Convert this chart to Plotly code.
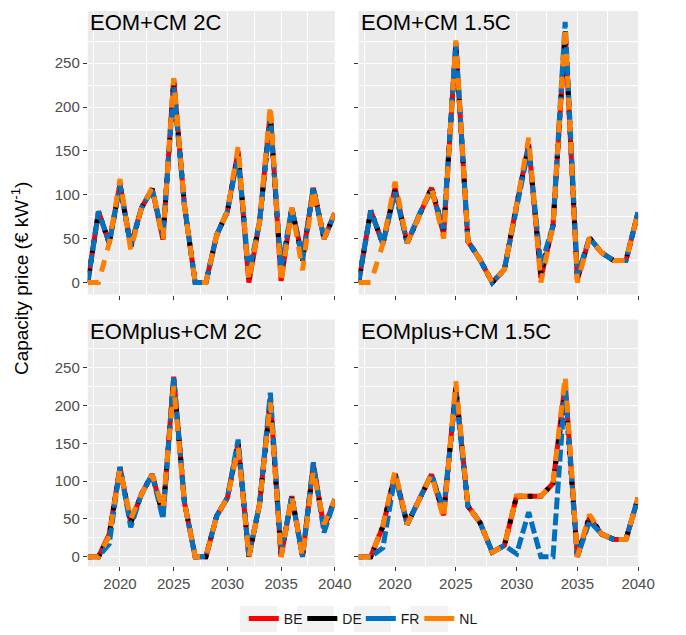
import plotly.graph_objects as go

# Years on the horizontal axis
years = list(range(2017, 2041))

# Capacity prices (EUR/kW) per scenario and country
eom_2c_be = [0, 81, 45, 112, 42, 85, 107, 49, 232, 88, 0, 0, 54, 81, 150, 0, 70, 195, 2, 85, 28, 108, 50, 79]
eom_2c_de = [0, 81, 45, 112, 40, 85, 107, 50, 228, 88, 0, 0, 54, 81, 148, 5, 70, 188, 10, 85, 25, 108, 50, 79]
eom_2c_fr = [0, 81, 45, 111, 42, 85, 106, 54, 222, 88, 0, 0, 54, 81, 144, 10, 70, 189, 15, 85, 26, 108, 50, 79]
eom_2c_nl = [0, 0, 45, 118, 37, 85, 108, 49, 233, 88, 0, 0, 54, 81, 155, 2, 70, 202, 0, 85, 14, 106, 50, 79]

eom_15c_be = [0, 82, 44, 108, 45, 78, 108, 55, 272, 47, 26, 0, 15, 88, 158, 5, 65, 285, 3, 51, 34, 25, 25, 80]
eom_15c_de = [0, 82, 44, 105, 45, 78, 108, 60, 270, 47, 26, 0, 15, 88, 156, 10, 65, 288, 5, 51, 34, 25, 25, 80]
eom_15c_fr = [0, 82, 44, 103, 45, 78, 105, 61, 274, 47, 26, 0, 15, 88, 154, 19, 65, 297, 8, 51, 34, 25, 25, 80]
eom_15c_nl = [0, 0, 44, 115, 45, 78, 108, 50, 276, 47, 26, 0, 15, 88, 165, 0, 65, 291, 0, 51, 34, 25, 25, 80]

plus_2c_be = [0, 0, 30, 118, 45, 83, 109, 55, 238, 72, 0, 0, 54, 78, 150, 0, 70, 210, 0, 80, 0, 122, 38, 76]
plus_2c_de = [0, 0, 28, 118, 45, 83, 109, 55, 235, 72, 0, 0, 54, 78, 150, 0, 70, 205, 2, 80, 0, 120, 38, 76]
plus_2c_fr = [0, 0, 17, 119, 39, 83, 109, 50, 238, 72, 0, 0, 54, 78, 155, 0, 70, 217, 5, 80, 0, 125, 32, 76]
plus_2c_nl = [0, 0, 28, 116, 50, 83, 109, 63, 226, 72, 0, 0, 54, 78, 144, 0, 70, 204, 0, 80, 0, 114, 43, 76]

plus_15c_be = [0, 0, 40, 110, 43, 76, 109, 55, 225, 67, 45, 6, 15, 80, 80, 80, 97, 230, 0, 52, 30, 23, 23, 78]
plus_15c_de = [0, 0, 40, 110, 43, 76, 109, 57, 222, 67, 45, 6, 15, 80, 80, 80, 97, 217, 0, 54, 30, 23, 23, 78]
plus_15c_fr = [0, 0, 12, 107, 43, 76, 109, 63, 217, 67, 45, 6, 15, 4, 59, 0, 0, 226, 0, 47, 30, 23, 23, 78]
plus_15c_nl = [0, 0, 41, 114, 43, 76, 109, 50, 232, 67, 45, 6, 15, 80, 80, 80, 97, 239, 0, 56, 30, 23, 23, 78]

panel_titles = ["EOM+CM 2C", "EOM+CM 1.5C", "EOMplus+CM 2C", "EOMplus+CM 1.5C"]
countries = ["BE", "DE", "FR", "NL"]
x_ticks = [2020, 2025, 2030, 2035, 2040]
y_ticks = [0, 50, 100, 150, 200, 250]

panels = [
    [eom_2c_be, eom_2c_de, eom_2c_fr, eom_2c_nl],
    [eom_15c_be, eom_15c_de, eom_15c_fr, eom_15c_nl],
    [plus_2c_be, plus_2c_de, plus_2c_fr, plus_2c_nl],
    [plus_15c_be, plus_15c_de, plus_15c_fr, plus_15c_nl],
]

colors = {"BE": "#ff0000", "DE": "#000000", "FR": "#0070c0", "NL": "#ff7f00"}
dashes = {"BE": "solid", "DE": "4px,6px", "FR": "12px,4px", "NL": "12px,10px"}

W, H = 686, 635
FONT = "Liberation Sans, Arial, sans-serif"


def px_x(p):
    return p / W


def px_y(p):
    return 1 - p / H


# panel boxes in pixels: (left, right, top, bottom)
boxes = [
    (90.0, 343.3, 11.0, 295.0),
    (367.7, 654.3, 11.0, 295.0),
    (90.0, 343.3, 320.0, 567.3),
    (367.7, 654.3, 320.0, 567.3),
]
y_ranges = [(-13.65, 309.5), (-13.65, 309.5), (-12.7, 313.8), (-12.7, 313.8)]

fig = go.Figure()

for i, series in enumerate(panels):
    sfx = "" if i == 0 else str(i + 1)
    for c, vals in zip(countries, series):
        fig.add_trace(go.Scatter(
            x=years, y=vals, mode="lines", name=c, showlegend=False,
            line=dict(color=colors[c], width=5, dash=dashes[c]),
            xaxis="x" + sfx, yaxis="y" + sfx, hoverinfo="skip",
        ))

# solid legend keys
for c in countries:
    fig.add_trace(go.Scatter(
        x=[None], y=[None], mode="lines", name=c, showlegend=True,
        line=dict(color=colors[c], width=5), xaxis="x", yaxis="y",
    ))

LEG_X = 250
STEP = 58.5

layout = dict(
    width=W, height=H,
    margin=dict(l=0, r=0, t=0, b=0),
    paper_bgcolor="white",
    plot_bgcolor="#ebebeb",
    font=dict(family=FONT, color="#4d4d4d", size=14),
    showlegend=True,
    legend=dict(
        orientation="h", x=px_x(LEG_X), xanchor="left", y=px_y(620), yanchor="middle",
        font=dict(family=FONT, size=14, color="#1a1a1a"),
        entrywidth=STEP - 45, entrywidthmode="pixels", bgcolor="rgba(0,0,0,0)",
        itemwidth=30,
    ),
)

annotations = []
for i, (l, r, t, b) in enumerate(boxes):
    sfx = "" if i == 0 else str(i + 1)
    bottom_row = i >= 2
    left_col = i % 2 == 0
    layout["xaxis" + sfx] = dict(
        domain=[px_x(l), px_x(r)], range=[2017, 2040], anchor="y" + sfx,
        tickmode="array", tickvals=x_ticks, showticklabels=bottom_row,
        ticks="outside", ticklen=4, tickwidth=1.1, tickcolor="#333333",
        showgrid=True, gridcolor="white", gridwidth=1.3, zeroline=False,
        showline=False, tickfont=dict(size=15, color="#4d4d4d"),
        minor=dict(tickmode="array", tickvals=[2017.5, 2022.5, 2027.5, 2032.5, 2037.5],
                   showgrid=True, gridcolor="white", gridwidth=0.6, ticks=""),
        fixedrange=True,
    )
    layout["yaxis" + sfx] = dict(
        domain=[px_y(b), px_y(t)], range=list(y_ranges[i]), anchor="x" + sfx,
        tickmode="array", tickvals=y_ticks, showticklabels=left_col,
        ticks="outside", ticklen=4, tickwidth=1.1, tickcolor="#333333",
        showgrid=True, gridcolor="white", gridwidth=1.3, zeroline=False,
        showline=False, tickfont=dict(size=15, color="#4d4d4d"),
        minor=dict(tickmode="array", tickvals=[25, 75, 125, 175, 225, 275],
                   showgrid=True, gridcolor="white", gridwidth=0.6, ticks=""),
        fixedrange=True,
    )
    annotations.append(dict(
        text=panel_titles[i], xref="paper", yref="paper",
        x=px_x(l + 0.5), y=px_y(t - 3), xanchor="left", yanchor="top",
        showarrow=False, font=dict(family=FONT, size=22, color="#000000"),
    ))

annotations.append(dict(
    text="Capacity price (€ kW<sup>-1</sup>)", xref="paper", yref="paper",
    x=px_x(20), y=px_y(279), xanchor="center", yanchor="middle", textangle=-90,
    showarrow=False, font=dict(family=FONT, size=19, color="#000000"),
))
layout["annotations"] = annotations

# grey key backgrounds behind legend symbols
shapes = []
for k in range(4):
    x0 = LEG_X + k * STEP
    shapes.append(dict(type="rect", xref="paper", yref="paper",
                       x0=px_x(x0 - 4), x1=px_x(x0 + 34), y0=px_y(633), y1=px_y(607),
                       fillcolor="#f2f2f2", line=dict(width=0), layer="below"))
layout["shapes"] = shapes

fig.update_layout(**layout)
fig.write_html("out.html")
